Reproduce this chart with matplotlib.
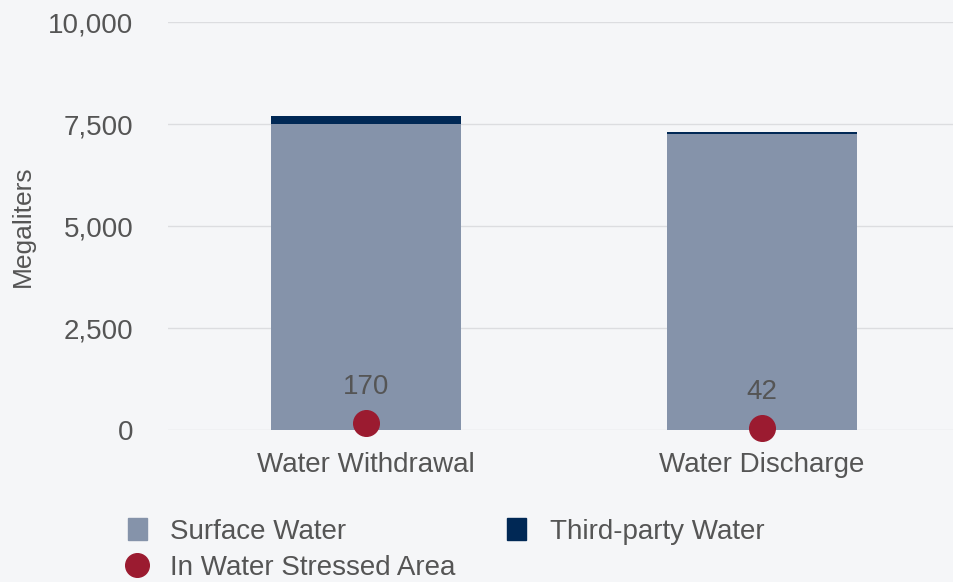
import matplotlib.pyplot as plt
from matplotlib.lines import Line2D
from matplotlib.patches import Patch

plt.rcParams['font.family'] = ['Liberation Sans', 'DejaVu Sans']

# Datos
categorias = ['Water Withdrawal', 'Water Discharge']
agua_superficial = [7500, 7255]
agua_terceros = [190, 50]
zona_estres = [170, 42]

fondo = '#f5f6f8'
color_sup = '#8593aa'
color_ter = '#002855'
color_rojo = '#9b1b30'
gris = '#555555'

fig = plt.figure(figsize=(9.54, 5.82), dpi=100, facecolor=fondo)
ax = fig.add_axes([0.176, 0.261, 0.83, 0.701], facecolor=fondo)

x = range(len(categorias))
ax.bar(x, agua_superficial, width=0.48, color=color_sup, zorder=2)
ax.bar(x, agua_terceros, width=0.48, bottom=agua_superficial, color=color_ter, zorder=2)
ax.scatter(x, zona_estres, s=340, color=color_rojo, zorder=3, clip_on=False)
for xi, v in zip(x, zona_estres):
    ax.annotate(str(v), (xi, v), xytext=(0, 17), textcoords='offset points',
                ha='center', va='bottom', fontsize=20, color=gris)

ax.set_xlim(-0.5, 1.5)
ax.set_ylim(0, 10000)
ax.set_yticks([0, 2500, 5000, 7500, 10000])
ax.set_yticklabels(['0', '2,500', '5,000', '7,500', '10,000'])
ax.set_xticks(list(x))
ax.set_xticklabels(categorias)
ax.tick_params(length=0, labelsize=20, colors=gris)
ax.tick_params(axis='x', pad=16)
ax.tick_params(axis='y', pad=25)
ax.grid(axis='y', color='#dcdde0', lw=1, zorder=0)
for s in ax.spines.values():
    s.set_visible(False)
ax.set_ylabel('Megaliters', fontsize=19, color=gris)
ax.yaxis.set_label_coords(-0.168, 0.5)

# Leyenda
handles = [
    Patch(color=color_sup, label='Surface Water'),
    Patch(color=color_ter, label='Third-party Water'),
    Line2D([], [], marker='o', ls='', color=color_rojo, markersize=17, label='In Water Stressed Area'),
]
leg = fig.legend(handles=[handles[0], handles[2], handles[1]], ncol=2, loc='upper left',
                 bbox_to_anchor=(0.134, 0.11), frameon=False, fontsize=20,
                 handlelength=0.68, handleheight=0.85, handletextpad=0.85,
                 columnspacing=1.85, labelspacing=0.35, borderpad=0, borderaxespad=0)
for t in leg.get_texts():
    t.set_color(gris)

fig.savefig('out.png', dpi=100, facecolor=fondo)
